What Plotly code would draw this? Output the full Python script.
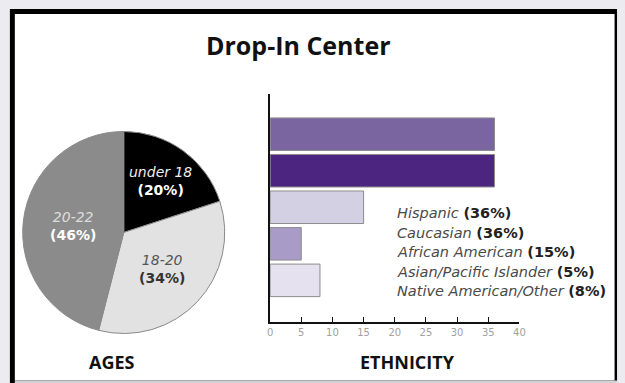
import math
import plotly.graph_objects as go

# Age breakdown (pie)
age_groups = ["under 18", "18-20", "20-22"]
age_pct = [20, 34, 46]
age_colors = ["#000000", "#e2e2e2", "#8b8b8b"]

# Ethnicity breakdown (horizontal bars)
ethnicities = ["Hispanic", "Caucasian", "African American",
               "Asian/Pacific Islander", "Native American/Other"]
eth_pct = [36, 36, 15, 5, 8]
eth_colors = ["#7a65a0", "#4b2580", "#d4d0e3", "#a99bc8", "#e6e1ee"]

x_ticks = [0, 5, 10, 15, 20, 25, 30, 35, 40]

W, H = 625, 383


def px(x):
    return x / W


def py(y):
    return 1 - y / H


fig = go.Figure()

# Pie geometry in pixels
pie_cx, pie_cy, pie_r = 122.5, 232.5, 102.5
fig.add_trace(go.Pie(
    labels=age_groups,
    values=age_pct,
    sort=False,
    direction="clockwise",
    rotation=0,
    marker=dict(colors=age_colors, line=dict(color="#8a8a8a", width=1)),
    textinfo="none",
    hoverinfo="label+percent",
    showlegend=False,
    domain=dict(x=[px(pie_cx - pie_r), px(pie_cx + pie_r)],
                y=[py(pie_cy + pie_r), py(pie_cy - pie_r)]),
))

fig.add_trace(go.Bar(
    y=ethnicities,
    x=eth_pct,
    orientation="h",
    marker=dict(color=eth_colors, line=dict(color="#8c8c8c", width=1)),
    showlegend=False,
    xaxis="x",
    yaxis="y",
))

annotations = []

# Slice labels placed along each slice's mid-angle
label_radius = [0.62, 0.52, 0.51]
name_colors = ["#eeeeee", "#555555", "#dddddd"]
pct_colors = ["#ffffff", "#333333", "#ffffff"]
total = sum(age_pct)
start = 0.0
for name, val, rf, nc, pc in zip(age_groups, age_pct, label_radius,
                                  name_colors, pct_colors):
    mid = (start + val / 2) / total * 2 * math.pi
    start += val
    lx = pie_cx + math.sin(mid) * rf * pie_r
    ly = pie_cy - math.cos(mid) * rf * pie_r
    annotations.append(dict(
        x=px(lx), y=py(ly), xref="paper", yref="paper",
        xanchor="center", yanchor="middle",
        text=(f"<i><span style='color:{nc}'>{name}</span></i><br>"
              f"<b><span style='color:{pc}'>({val}%)</span></b>"),
        showarrow=False, align="center",
        font=dict(family="DejaVu Sans", size=14),
    ))

# Ethnicity key text
for i, (name, val) in enumerate(zip(ethnicities, eth_pct)):
    annotations.append(dict(
        x=px(398), y=py(213 + i * 19.6), xref="paper", yref="paper",
        xanchor="left", yanchor="middle",
        text=(f"<i><span style='color:#4a4a4a'>{name}</span></i> "
              f"<b><span style='color:#222222'>({val}%)</span></b>"),
        showarrow=False, align="left",
        font=dict(family="DejaVu Sans", size=14.5),
    ))

# Headings
for label, x, y, size in [("Drop-In Center", 300, 45, 25),
                          ("AGES", 111, 362, 18),
                          ("ETHNICITY", 410, 362, 18)]:
    annotations.append(dict(
        x=px(x), y=py(y), xref="paper", yref="paper",
        xanchor="center", yanchor="middle",
        text=f"<b>{label}</b>", showarrow=False,
        font=dict(family="Open Sans", size=size, color="#111111"),
    ))

# Frame: black border with white panel
shapes = [
    dict(type="rect", xref="paper", yref="paper", layer="below",
         x0=px(7), x1=px(623), y0=py(383), y1=py(9),
         fillcolor="#000000", line=dict(width=0)),
    dict(type="rect", xref="paper", yref="paper", layer="below",
         x0=px(12), x1=px(620.5), y0=py(380.5), y1=py(14),
         fillcolor="#ffffff", line=dict(width=0)),
    dict(type="rect", xref="paper", yref="paper", layer="below",
         x0=px(12), x1=px(623), y0=py(383), y1=py(380.5),
         fillcolor="#d2d2d6", line=dict(width=0)),
]

n = len(ethnicities)
fig.update_layout(
    width=W, height=H,
    margin=dict(l=0, r=0, t=0, b=0),
    paper_bgcolor="#ececf0",
    plot_bgcolor="rgba(0,0,0,0)",
    bargap=0.11,
    xaxis=dict(
        domain=[px(271), px(524)],
        range=[0, 40],
        tickvals=x_ticks,
        ticks="inside", ticklen=5, tickwidth=1, tickcolor="#111111",
        showline=True, linecolor="#111111", linewidth=1.5,
        showgrid=False, zeroline=False,
        tickfont=dict(family="DejaVu Sans", size=10, color="#a0a0a0"),
        anchor="y",
    ),
    yaxis=dict(
        domain=[py(322), py(94)],
        type="category",
        range=[n - 1 + 1.14, -1.10],
        showticklabels=False, ticks="",
        showline=True, linecolor="#111111", linewidth=1.5,
        showgrid=False, zeroline=False,
        anchor="x",
    ),
    annotations=annotations,
    shapes=shapes,
)

fig.write_html("out.html")
